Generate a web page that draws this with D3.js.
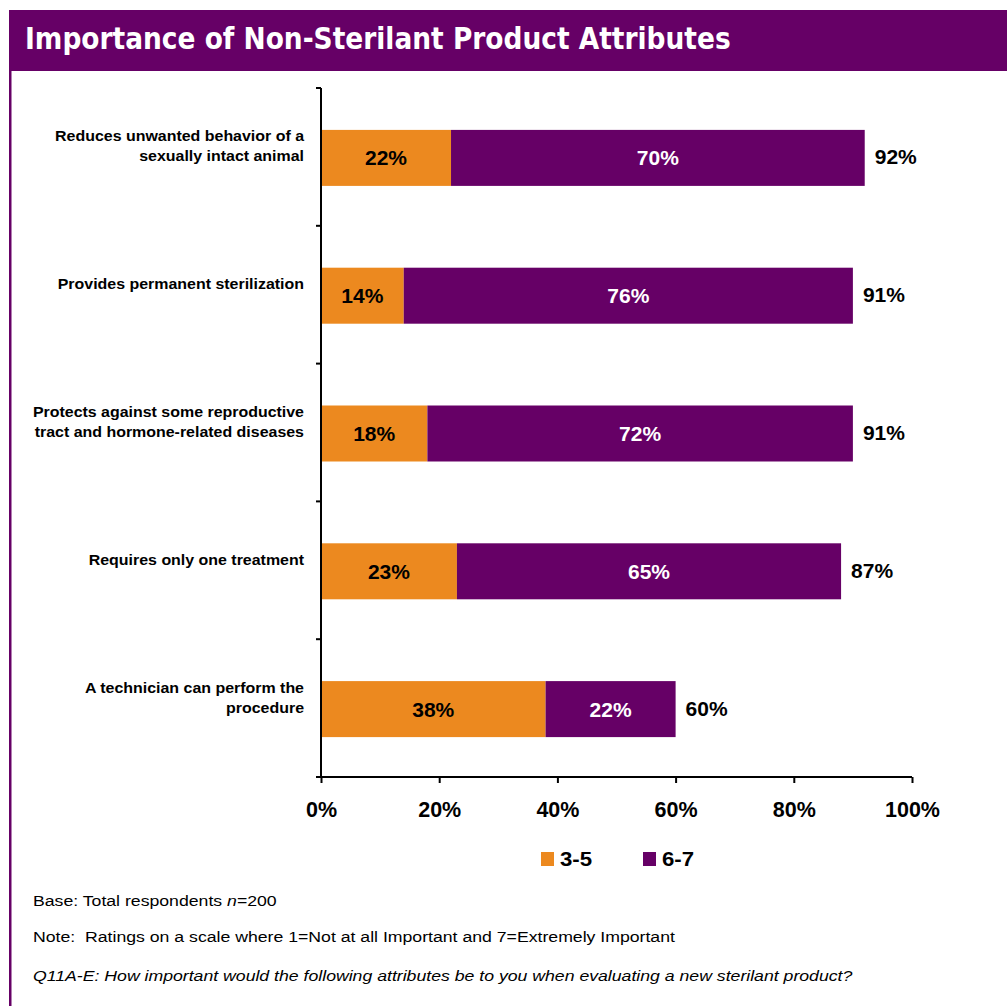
<!DOCTYPE html>
<html>
<head>
<meta charset="utf-8">
<script src="https://cdn.jsdelivr.net/npm/d3@7"></script>
<style>
  html, body { margin: 0; padding: 0; background: #ffffff; }
  svg { display: block; }
</style>
</head>
<body>
<svg id="chart" width="1007" height="1006"></svg>
<script>
// Survey attributes (two-line labels split with "|")
const categories = [
  "Reduces unwanted behavior of a|sexually intact animal",
  "Provides permanent sterilization",
  "Protects against some reproductive|tract and hormone-related diseases",
  "Requires only one treatment",
  "A technician can perform the|procedure"
];
const seriesNames = ["3-5", "6-7"];
const rating35 = [22, 14, 18, 23, 38];
const rating67 = [70, 76, 72, 65, 22];
const totals = [92, 91, 91, 87, 60];
const tickValues = [0, 20, 40, 60, 80, 100];

const purple = "#660066";
const orange = "#EC891F";
const colors = [orange, purple];
const FONT = "Arial, 'Liberation Sans', sans-serif";
const WIDEN = 1.14;      // horizontal stretch for legend and note text
const WIDEN_CAT = 1.10;  // horizontal stretch for category labels

const svg = d3.select("#chart");

// Title banner and left frame rule
svg.append("rect").attr("x", 9).attr("y", 10).attr("width", 998).attr("height", 61).attr("fill", purple);
svg.append("rect").attr("x", 9).attr("y", 70).attr("width", 2.5).attr("height", 936).attr("fill", purple);
const title = svg.append("text")
  .attr("x", 25).attr("y", 49)
  .attr("fill", "#ffffff")
  .attr("font-family", "'DejaVu Sans Condensed', 'DejaVu Sans', sans-serif")
  .attr("font-weight", "bold")
  .attr("font-size", 29)
  .text("Importance of Non-Sterilant Product Attributes");
// fit title to its banner width
const tl = title.node().getComputedTextLength();
if (tl > 0) title.attr("font-size", 29 * 706 / tl);

// Scales
const x = d3.scaleLinear().domain([0, 100]).range([321, 912]);
const y = d3.scaleBand().domain(d3.range(categories.length)).range([88, 777]).paddingInner(0).paddingOuter(0);
const barH = 56;

// Stacked data
const stackData = categories.map((c, i) => ({ i, "3-5": rating35[i], "6-7": rating67[i] }));
const stacked = d3.stack().keys(seriesNames)(stackData);

const g = svg.append("g");
stacked.forEach((layer, k) => {
  g.selectAll(null).data(layer).enter().append("rect")
    .attr("x", d => x(d[0]))
    .attr("width", d => x(d[1]) - x(d[0]))
    .attr("y", d => y(d.data.i) + y.bandwidth() / 2 - barH / 2 + 1)
    .attr("height", barH)
    .attr("fill", colors[k]);
  g.selectAll(null).data(layer).enter().append("text")
    .attr("x", d => (x(d[0]) + x(d[1])) / 2)
    .attr("y", d => y(d.data.i) + y.bandwidth() / 2 + 1)
    .attr("dy", "0.36em")
    .attr("text-anchor", "middle")
    .attr("font-family", FONT)
    .attr("font-weight", "bold")
    .attr("font-size", 21)
    .attr("fill", k === 0 ? "#000000" : "#ffffff")
    .text(d => (d[1] - d[0]) + "%");
});

// Totals beyond each bar
const ends = stacked[1].map(d => d[1]);
g.selectAll(null).data(totals).enter().append("text")
  .attr("x", (d, i) => x(ends[i]) + 10)
  .attr("y", (d, i) => y(i) + y.bandwidth() / 2)
  .attr("dy", "0.36em")
  .attr("font-family", FONT)
  .attr("font-weight", "bold")
  .attr("font-size", 21)
  .attr("fill", "#000000")
  .text(d => d + "%");

// Category axis: ticks on band boundaries
const yAxisG = svg.append("g");
yAxisG.append("line").attr("x1", 321).attr("x2", 321).attr("y1", 88).attr("y2", 777)
  .attr("stroke", "#000").attr("stroke-width", 2);
d3.range(categories.length + 1).forEach(i => {
  const yy = i < categories.length ? y(i) : y.range()[1];
  yAxisG.append("line").attr("x1", 316).attr("x2", 321).attr("y1", yy).attr("y2", yy)
    .attr("stroke", "#000").attr("stroke-width", 2);
});
categories.forEach((c, i) => {
  const lines = c.split("|");
  const cy = y(i) + y.bandwidth() / 2 - 10.5;
  const t = yAxisG.append("text")
    .attr("transform", `translate(304,${cy}) scale(${WIDEN_CAT},1)`)
    .attr("text-anchor", "end")
    .attr("font-family", FONT)
    .attr("font-weight", "bold")
    .attr("font-size", 14.5)
    .attr("fill", "#000");
  lines.forEach((ln, j) => {
    t.append("tspan").attr("x", 0)
      .attr("y", (j - (lines.length - 1) / 2) * 20)
      .attr("dy", "0.35em")
      .text(ln);
  });
});

// Value axis
const xAxis = d3.axisBottom(x).tickValues(tickValues).tickFormat(d => d + "%").tickSize(6).tickSizeOuter(0);
const xAxisG = svg.append("g").attr("transform", "translate(0,777)").call(xAxis);
xAxisG.select(".domain").attr("stroke", "#000").attr("stroke-width", 2).attr("d", "M316,0H912");
xAxisG.selectAll(".tick line").attr("stroke", "#000").attr("stroke-width", 2);
xAxisG.selectAll(".tick text")
  .attr("y", 32).attr("dy", "0.36em")
  .attr("font-family", FONT)
  .attr("font-weight", "bold")
  .attr("font-size", 21.5)
  .attr("fill", "#000");

// Legend
const legend = svg.append("g");
const legendX = [541, 643];
seriesNames.forEach((s, k) => {
  legend.append("rect").attr("x", legendX[k]).attr("y", 852).attr("width", 13).attr("height", 14).attr("fill", colors[k]);
  legend.append("text")
    .attr("transform", `translate(${legendX[k] + 19},859) scale(${WIDEN},1)`)
    .attr("dy", "0.36em")
    .attr("font-family", FONT)
    .attr("font-weight", "bold").attr("font-size", 19.5).attr("fill", "#000").text(s);
});

// Footnotes
const notes = svg.append("g")
  .attr("font-family", FONT)
  .attr("font-size", 15.5).attr("fill", "#000");
const note = (yy) => notes.append("text").attr("transform", `translate(33,${yy}) scale(${WIDEN},1)`);
const base = note(906);
base.append("tspan").text("Base: Total respondents ");
base.append("tspan").attr("font-style", "italic").text("n");
base.append("tspan").text("=200");
note(942).attr("xml:space", "preserve")
  .text("Note:  Ratings on a scale where 1=Not at all Important and 7=Extremely Important");
note(981).attr("font-style", "italic")
  .text("Q11A-E: How important would the following attributes be to you when evaluating a new sterilant product?");
</script>
</body>
</html>
